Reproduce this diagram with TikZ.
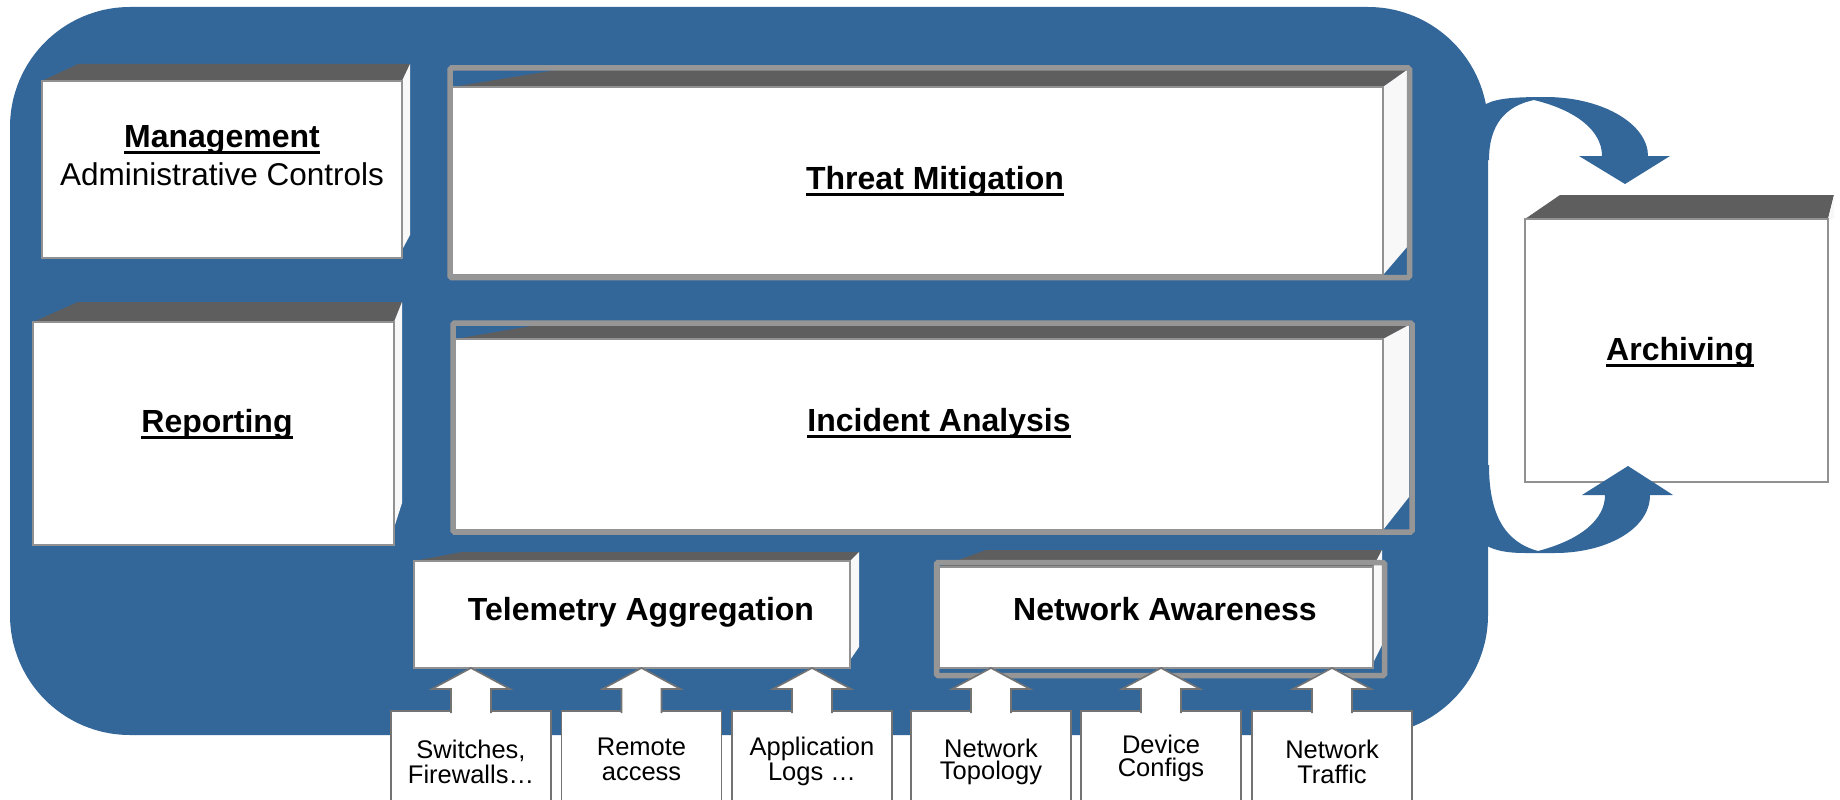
\documentclass[tikz,border=0pt]{standalone}
\usepackage{fontspec}
\setmainfont{Liberation Sans}
\usetikzlibrary{calc}
\definecolor{blueA}{RGB}{52,103,153}
\definecolor{topc}{RGB}{94,94,94}
\definecolor{sidec}{RGB}{248,248,248}
\definecolor{frameg}{RGB}{150,150,150}
\definecolor{edgeg}{RGB}{145,145,145}
\definecolor{srcg}{RGB}{115,115,115}
\newcommand{\ulx}[1]{\setbox0=\hbox{#1}\rlap{\rule[-0.21em]{\wd0}{0.1em}}\box0}
\pgfdeclarelayer{bgl}\pgfdeclarelayer{facel}\pgfsetlayers{bgl,facel,main}
\newcommand{\cubefaces}[6]{%
\begin{pgfonlayer}{facel}
\fill[topc] (#1.north west) -- ($(#1.north west)+(#2,-#3)$) -- ($(#1.north east)+(#4,-#3)$) -- (#1.north east) -- cycle;
\fill[sidec] (#1.north east) -- ($(#1.north east)+(#4,-#3)$) -- ($(#1.south east)+(#4,-#5)$) -- ($(#1.south east)+(0,-#6)$) -- cycle;
\end{pgfonlayer}}
\newcommand{\blockarrow}[2]{%
\coordinate (#1tip) at (#1.north |- #2.south);
\filldraw[barrow] ($(#1.north)+(-20,2)$) -- ($(#1tip)+(-20,21)$) -- ($(#1tip)+(-39,21)$) -- (#1tip) -- ($(#1tip)+(39,21)$) -- ($(#1tip)+(20,21)$) -- ($(#1.north)+(20,2)$);}
\begin{document}
\begin{tikzpicture}[x=1pt,y=-1pt,
  frontbox/.style={draw=edgeg, line width=1.6, fill=white, inner sep=0, outer sep=0, anchor=north west},
  srcbox/.style={draw=srcg, line width=1.6, fill=white, inner sep=0, outer sep=0, anchor=north, minimum width=160, minimum height=100},
  selframe/.style={draw=frameg, line width=5.5, rounded corners=1.5},
  ttl/.style={font=\fontsize{32}{38}\selectfont\bfseries, anchor=base, inner sep=0},
  subt/.style={font=\fontsize{31.5}{38}\selectfont, anchor=base, inner sep=0},
  srct/.style={font=\fontsize{25.5}{30}\selectfont, anchor=base, inner sep=0},
  barrow/.style={fill=white, draw=srcg, line width=1.6, line join=miter},
  bluef/.style={fill=blueA}
]
\useasboundingbox (0,0) rectangle (1840,800);
\begin{pgfonlayer}{bgl}
\fill[white] (0,0) rectangle (1840,800);
\fill[bluef, rounded corners=120] (10,7) rectangle (1488,735);
\end{pgfonlayer}

% front faces
\node[frontbox, minimum width=360, minimum height=177] (mgmt) at (42,81) {};
\node[frontbox, minimum width=361, minimum height=223] (rep) at (33,322) {};
\node[frontbox, minimum width=931, minimum height=188] (threat) at (452,87) {};
\node[frontbox, minimum width=928, minimum height=191] (incid) at (455,339) {};
\node[frontbox, minimum width=436, minimum height=107] (tele) at (414,561) {};
\node[frontbox, minimum width=434, minimum height=101] (netaw) at (939,567) {};
\node[frontbox, minimum width=303, minimum height=263] (arch) at (1525,219) {};

\cubefaces{mgmt}{36}{17}{8}{23}{8}
\cubefaces{rep}{45}{20}{8}{42}{17}
\cubefaces{threat}{105}{17}{24}{28}{0}
\cubefaces{incid}{82}{14}{26}{33}{0}
\cubefaces{tele}{48}{9}{9}{21}{8}
\cubefaces{netaw}{47}{17}{9}{23}{5}
\cubefaces{arch}{35}{24}{6}{263}{263}

% selection frames
\draw[selframe] (450,68) rectangle (1409.5,277.5);
\draw[selframe] (453,323) rectangle (1412,532);
\draw[selframe] (936.5,562.5) rectangle (1384.5,675.5);

% titles
\node[ttl] (mgmt-t) at (222,147) {\ulx{Management}};
\node[subt] (mgmt-s) at (222,185) {Administrative Controls};
\node[ttl] (threat-t) at (935,189) {\ulx{Threat Mitigation}};
\node[ttl] (rep-t) at (217,432) {\ulx{Reporting}};
\node[ttl] (incid-t) at (939,431) {\ulx{Incident Analysis}};
\node[ttl] (arch-t) at (1680,360) {\ulx{Archiving}};
\node[ttl] (tele-t) at (641,620) {Telemetry Aggregation};
\node[ttl] (netaw-t) at (1165,620) {Network Awareness};

% source boxes
\node[srcbox] (s1) at (471,711) {};
\node[srcbox] (s2) at (641.5,711) {};
\node[srcbox] (s3) at (812,711) {};
\node[srcbox] (s4) at (991,711) {};
\node[srcbox] (s5) at (1161,711) {};
\node[srcbox] (s6) at (1332,711) {};

\node[srct] (s1a) at (471,758) {Switches,};
\node[srct] (s1b) at (471,783) {Firewalls…};
\node[srct] (s2a) at (641.5,755) {Remote};
\node[srct] (s2b) at (641.5,780) {access};
\node[srct] (s3a) at (812,755) {Application};
\node[srct] (s3b) at (812,780) {Logs …};
\node[srct] (s4a) at (991,757) {Network};
\node[srct] (s4b) at (991,779) {Topology};
\node[srct] (s5a) at (1161,753) {Device};
\node[srct] (s5b) at (1161,776) {Configs};
\node[srct] (s6a) at (1332,758) {Network};
\node[srct] (s6b) at (1332,783) {Traffic};

\blockarrow{s1}{tele}
\blockarrow{s2}{tele}
\blockarrow{s3}{tele}
\blockarrow{s4}{netaw}
\blockarrow{s5}{netaw}
\blockarrow{s6}{netaw}

% curved arrows to archiving
\fill[bluef] (1470,160) -- (1470,104) -- (1486,104)
  .. controls (1498,98) and (1515,97) .. (1548,97)
  .. controls (1605,98) and (1648,125) .. (1648,156)
  -- (1670,156) -- (1625,184) -- (1579,156) -- (1602,156)
  .. controls (1602,130) and (1575,110) .. (1534,100)
  .. controls (1505,106) and (1489,125) .. (1489,160) -- cycle;
\fill[bluef] (1470,465) -- (1489,465)
  .. controls (1489,515) and (1505,542) .. (1538,551)
  .. controls (1580,540) and (1605,520) .. (1605,495)
  -- (1582,495) -- (1628,466) -- (1673,495) -- (1650,495)
  .. controls (1650,530) and (1605,553) .. (1555,553)
  -- (1525,553) .. controls (1505,553) and (1495,550) .. (1487,546)
  -- (1470,546) -- cycle;
\end{tikzpicture}
\end{document}
